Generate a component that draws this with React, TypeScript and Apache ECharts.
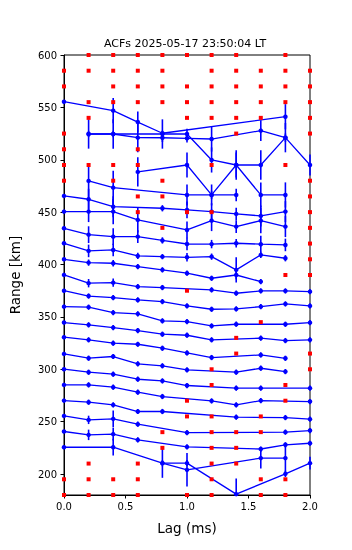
import React, { useEffect, useRef } from "react";
import * as echarts from "echarts";

const titleText = "ACFs 2025-05-17 23:50:04 LT";
const xTicks = [0, 0.5, 1, 1.5, 2];
const yTicks = [200, 250, 300, 350, 400, 450, 500, 550, 600];

// each point: [lag (ms), plotted range (km), error half-length (km)]
const acf540 = [[0, 555.4, 1.5], [0.4, 546.9, 12], [0.6, 536, 10], [0.8, 525.3, 2.5], [1.8, 541.1, 12]];
const acf525 = [[0.2, 524.6, 14], [0.4, 524.6, 14], [0.6, 521.1, 14], [0.8, 521, 4], [1.0, 520.5, 4], [1.2, 519.8, 12], [1.6, 527.8, 10], [1.8, 521.1, 14]];
const acf510 = [[0.2, 524.6, 3], [0.4, 524.6, 3], [0.8, 524.6, 14], [1.0, 524.6, 5], [1.2, 499.8, 12], [1.4, 495, 14], [1.6, 495, 14], [1.8, 521.1, 4], [2.0, 495, 10]];
const acf480 = [[0.6, 488.4, 14], [1.0, 495, 12], [1.2, 466.4, 10], [1.4, 495, 12], [1.6, 466.4, 12], [1.8, 466.4, 12]];
const acf465 = [[0.2, 479.8, 16], [0.4, 473.4, 16], [1.0, 466.4, 10], [1.2, 466.4, 4], [1.4, 466.4, 6]];
const acf450 = [[0, 465.5, 1.5], [0.2, 462.3, 10], [0.4, 455.2, 10], [0.8, 453.7, 3], [1.0, 452.1, 8], [1.2, 450.5, 8], [1.4, 448.3, 6], [1.6, 446.4, 10], [1.8, 450.5, 10]];
const acf435 = [[0, 450.5, 1.5], [0.2, 450.5, 10], [0.4, 450.5, 12], [0.6, 442.6, 12], [1.0, 433, 8], [1.2, 441.9, 10], [1.4, 436.2, 6], [1.6, 441.9, 12], [1.8, 436.2, 10]];
const acf420 = [[0, 434.6, 1.5], [0.2, 428.5, 8], [0.4, 426.6, 8], [0.6, 426.6, 6], [0.8, 423, 3], [1.0, 419.6, 6], [1.2, 419.5, 4], [1.4, 420.3, 4], [1.6, 419.4, 8], [1.8, 418.7, 6]];
const acf405 = [[0, 420.3, 1.5], [0.2, 413, 6], [0.4, 413.9, 6], [0.6, 408.2, 3], [0.8, 407.5, 2.5], [1.0, 406.9, 4], [1.2, 407.5, 3], [1.4, 394.9, 12], [1.6, 409.2, 3], [1.8, 406, 3]];
const acf390 = [[0, 405, 1.5], [0.2, 401.8, 3], [0.4, 401.2, 3], [0.6, 398, 2.5], [0.8, 394.9, 2.5], [1.0, 391.7, 2.5], [1.2, 386.9, 2.5], [1.4, 390, 4], [1.6, 383.7, 2.5]];
const acf375 = [[0, 390.1, 1.5], [0.2, 382.2, 4], [0.4, 382.7, 4], [0.6, 378.9, 2.5], [0.8, 378, 2.5], [1.2, 375.8, 2.5], [1.4, 372.6, 2.5], [1.6, 374.8, 2.5], [1.8, 374.8, 2.5], [2.0, 374.1, 2.5]];
const acf360 = [[0, 375, 1.5], [0.2, 369.9, 2.5], [0.4, 368.4, 2.5], [0.6, 366.2, 2.5], [0.8, 364.6, 2.5], [1.0, 360.5, 2.5], [1.2, 357.3, 2.5], [1.4, 357.6, 2.5], [1.6, 359.8, 2.5], [1.8, 362.4, 2.5], [2.0, 360.5, 2.5]];
const acf345 = [[0, 359.8, 1.5], [0.2, 359.3, 2.5], [0.4, 354.1, 2.5], [0.6, 352.9, 2.5], [0.8, 346.2, 2.5], [1.0, 345.5, 2.5], [1.2, 341.4, 2.5], [1.4, 343, 2.5], [1.8, 343, 2.5], [2.0, 344.5, 2.5]];
const acf330 = [[0, 344.6, 1.5], [0.2, 342.4, 2.5], [0.4, 339.8, 2.5], [0.6, 337, 2.5], [0.8, 333.5, 2.5], [1.0, 332.5, 2.5], [1.2, 328.1, 2.5], [1.6, 329.7, 2.5], [1.8, 327.4, 2.5], [2.0, 328.1, 2.5]];
const acf315 = [[0, 330.6, 1.5], [0.2, 328.1, 2.5], [0.4, 324.9, 2.5], [0.6, 323.9, 2.5], [0.8, 320.1, 2.5], [1.0, 315.6, 2.5], [1.2, 311.2, 2.5], [1.6, 313.7, 2.5], [1.8, 310.5, 2.5]];
const acf300 = [[0, 314.7, 1.5], [0.2, 310.6, 2.5], [0.4, 312.2, 2.5], [0.6, 305.2, 2.5], [0.8, 303.3, 2.5], [1.0, 299.4, 2.5], [1.4, 297.2, 2.5], [1.6, 301, 2.5], [1.8, 297.8, 2.5]];
const acf285 = [[0, 300.1, 1.5], [0.2, 297.2, 2.5], [0.4, 295.3, 2.5], [0.6, 290.5, 2.5], [0.8, 288.9, 2.5], [1.0, 284.5, 2.5], [1.4, 282, 2.5], [1.6, 282, 2.5], [2.0, 282, 2.5]];
const acf270 = [[0, 285.1, 1.5], [0.2, 285.1, 2.5], [0.4, 282.9, 2.5], [0.6, 278.1, 2.5], [0.8, 274, 2.5], [1.2, 269.8, 2.5], [1.4, 266, 2.5], [1.6, 270.1, 2.5], [2.0, 269.2, 2.5]];
const acf255 = [[0, 270.1, 1.5], [0.2, 268.6, 2.5], [0.4, 266, 2.5], [0.6, 259.7, 2.5], [0.8, 259.7, 2.5], [1.4, 254.3, 2.5], [1.8, 253.9, 2.5], [2.0, 252.4, 2.5]];
const acf240 = [[0, 255.5, 1.5], [0.2, 251.7, 4], [0.4, 252.7, 8], [0.6, 247.6, 2.5], [1.0, 239.5, 2.5], [1.8, 240, 2.5], [2.0, 241.5, 2.5]];
const acf225 = [[0, 240.6, 1.5], [0.2, 237.4, 5], [0.4, 238.1, 6], [0.6, 232.6, 2.5], [1.0, 225.9, 2.5], [1.6, 223.9, 2.5], [1.8, 227.9, 2.5], [2.0, 229.4, 2.5]];
const acf210 = [[0, 225.6, 1.5], [0.4, 225.6, 8], [0.8, 210.4, 14], [1.0, 204, 16], [1.6, 215.2, 10], [1.8, 215.2, 14]];
const acf195 = [[0.8, 210.4, 3], [1.0, 210.4, 3], [1.4, 180.8, 15], [1.8, 200.2, 3], [2.0, 210.4, 6]];

const acfCurves = [
  acf540, acf525, acf510, acf480, acf465, acf450, acf435, acf420, acf405, acf390,
  acf375, acf360, acf345, acf330, acf315, acf300, acf285, acf270, acf255, acf240,
  acf225, acf210, acf195,
];

// flagged lags, listed per range gate: [range (km), lags (ms)]
const flaggedRows: [number, number[]][] = [
  [600, [0.2, 0.4, 0.6, 0.8, 1.0, 1.2, 1.4, 1.8]],
  [585, [0, 0.2, 0.4, 0.6, 0.8, 1.2, 1.4, 1.6, 1.8, 2.0]],
  [570, [0, 0.4, 0.6, 0.8, 1.0, 1.2, 1.4, 1.6, 1.8, 2.0]],
  [555, [0.2, 0.4, 0.6, 0.8, 1.0, 1.2, 1.4, 1.6, 1.8, 2.0]],
  [540, [0.2, 1.0, 1.2, 1.4, 1.6, 2.0]],
  [525, [0, 1.4, 2.0]],
  [510, [0, 0.6]],
  [495, [0, 0.2, 0.4, 0.6, 1.2, 1.8]],
  [480, [0, 0.4, 0.8, 2.0]],
  [465, [0.6, 0.8, 2.0]],
  [450, [0.6, 1.0, 1.2, 2.0]],
  [435, [0.8, 2.0]],
  [420, [2.0]],
  [405, [2.0]],
  [390, [1.8, 2.0]],
  [375, [1.0]],
  [345, [1.6]],
  [330, [1.4]],
  [315, [1.4, 2.0]],
  [300, [1.2, 2.0]],
  [285, [1.2, 1.8]],
  [270, [1.0, 1.8]],
  [255, [1.0, 1.2, 1.6]],
  [240, [0.8, 1.2, 1.4, 1.6]],
  [225, [0.8, 1.2, 1.4]],
  [210, [0.2, 0.6, 1.2, 1.4]],
  [195, [0, 0.2, 0.4, 0.6, 1.2, 1.6, 1.8]],
  [180, [0, 0.2, 0.4, 0.6, 1.0, 1.2, 1.6, 1.8]],
];

const Y_MIN = 180;
const Y_MAX = 600;
const BLUE = "#0000ff";
const FONT = "DejaVu Sans";

export default function App() {
  const ref = useRef<HTMLDivElement>(null);
  useEffect(() => {
    if (!ref.current) return;
    const chart = echarts.init(ref.current, undefined, { renderer: "svg" });

    const lineSeries = acfCurves.map((c) => ({
      type: "line",
      data: c.map((p) => [p[0], p[1]]),
      symbol: "circle",
      symbolSize: 4.5,
      showSymbol: true,
      lineStyle: { color: BLUE, width: 1.3 },
      itemStyle: { color: BLUE, opacity: 1 },
      z: 3,
      silent: true,
      clip: true,
    }));

    const errData = acfCurves.flatMap((c) => c.map((p) => [p[0], p[1] - p[2], p[1] + p[2]]));
    const flagged = flaggedRows.flatMap(([r, ls]) => ls.map((l) => [l, r]));

    chart.setOption({
      animation: false,
      grid: {
        left: 60,
        right: 42,
        top: 55,
        bottom: 55,
        show: true,
        borderColor: "#000",
        borderWidth: 1,
        backgroundColor: "transparent",
      },
      graphic: [
        {
          type: "text",
          x: 185,
          y: 43,
          style: {
            text: titleText,
            textAlign: "center",
            textVerticalAlign: "middle",
            fontSize: 11,
            fontFamily: FONT,
            fill: "#000",
          },
        },
      ],
      xAxis: {
        type: "value",
        min: 0,
        max: 2,
        interval: 0.5,
        name: "Lag (ms)",
        nameLocation: "middle",
        nameGap: 26,
        nameTextStyle: { fontSize: 13.5, fontFamily: FONT, color: "#000" },
        axisLine: { show: true, lineStyle: { color: "#000", width: 1 } },
        axisTick: { show: true, inside: false, length: 3.5, lineStyle: { color: "#000" }, customValues: xTicks },
        axisLabel: {
          fontSize: 10,
          fontFamily: FONT,
          color: "#000",
          margin: 6,
          customValues: xTicks,
          formatter: (v: number) => v.toFixed(1),
        },
        splitLine: { show: false },
      },
      yAxis: {
        type: "value",
        min: Y_MIN,
        max: Y_MAX,
        name: "Range [km]",
        nameLocation: "middle",
        nameGap: 42,
        nameTextStyle: { fontSize: 13.5, fontFamily: FONT, color: "#000" },
        axisLine: { show: true, lineStyle: { color: "#000", width: 1 } },
        axisTick: { show: true, inside: false, length: 3.5, lineStyle: { color: "#000" }, customValues: yTicks },
        axisLabel: {
          fontSize: 10,
          fontFamily: FONT,
          color: "#000",
          margin: 7,
          customValues: yTicks,
          formatter: (v: number) => String(v),
        },
        splitLine: { show: false },
      },
      series: [
        ...lineSeries,
        {
          type: "custom",
          data: errData,
          z: 2,
          silent: true,
          renderItem: (params: any, api: any) => {
            const x = api.value(0);
            const lo = Math.max(api.value(1), Y_MIN);
            const hi = Math.min(api.value(2), Y_MAX);
            const p1 = api.coord([x, lo]);
            const p2 = api.coord([x, hi]);
            return {
              type: "line",
              shape: { x1: p1[0], y1: p1[1], x2: p2[0], y2: p2[1] },
              style: { stroke: BLUE, lineWidth: 1.6 },
            };
          },
        },
        {
          type: "scatter",
          data: flagged,
          symbol: "rect",
          symbolSize: 4,
          itemStyle: { color: "#ff0000", opacity: 1 },
          z: 5,
          silent: true,
        },
      ],
    });

    return () => chart.dispose();
  }, []);

  return <div ref={ref} style={{ position: "fixed", left: 0, top: 0, width: 352, height: 550 }} />;
}
